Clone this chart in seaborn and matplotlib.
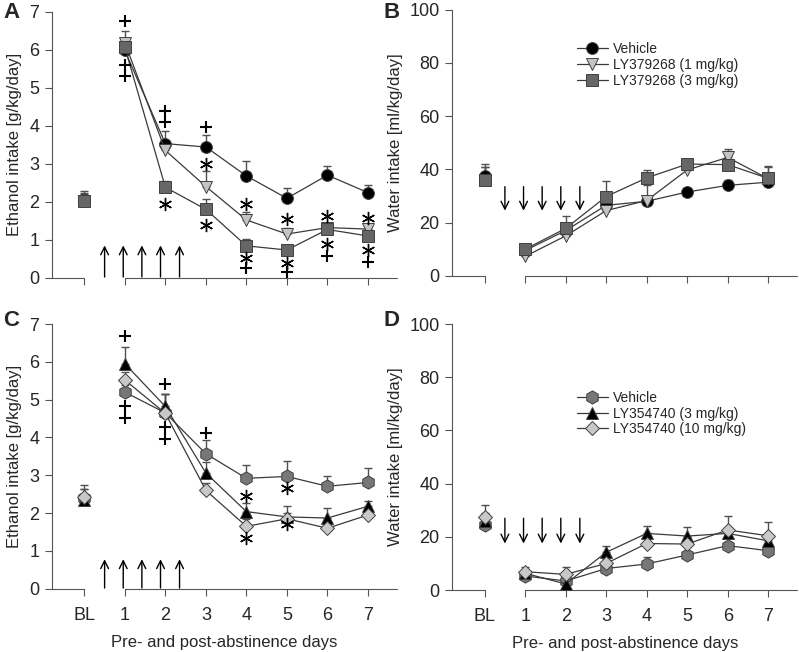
import numpy as np
import pandas as pd
import seaborn as sns
import matplotlib.pyplot as plt

sns.set_style("ticks")
plt.rcParams['font.family'] = ['Liberation Sans', 'DejaVu Sans']

days = [1, 2, 3, 4, 5, 6, 7]
xticklabels = ['BL', '1', '2', '3', '4', '5', '6', '7']

# panel A: ethanol intake, LY379268
a_vehicle = [5.98, 3.53, 3.44, 2.68, 2.09, 2.70, 2.24]
a_vehicle_err = [0.52, 0.33, 0.32, 0.40, 0.27, 0.24, 0.20]
a_vehicle_bl, a_vehicle_bl_err = 2.05, 0.22
a_ly1 = [6.18, 3.35, 2.40, 1.52, 1.15, 1.32, 1.28]
a_ly1_err = [0.12, 0.10, 0.42, 0.22, 0.16, 0.06, 0.06]
a_ly1_bl, a_ly1_bl_err = 2.02, 0.18
a_ly3 = [6.06, 2.38, 1.80, 0.84, 0.73, 1.27, 1.10]
a_ly3_err = [0.20, 0.17, 0.27, 0.19, 0.10, 0.08, 0.06]
a_ly3_bl, a_ly3_bl_err = 2.03, 0.20

# panel B: water intake, LY379268
b_vehicle = [9.5, 17.0, 26.5, 28.0, 31.5, 34.0, 35.2]
b_vehicle_err = [1.0, 2.0, 1.5, 1.5, 1.5, 2.0, 3.0]
b_vehicle_bl, b_vehicle_bl_err = 37.5, 3.5
b_ly1 = [7.3, 15.0, 24.5, 28.3, 39.8, 44.5, 36.5]
b_ly1_err = [1.0, 2.0, 2.0, 6.0, 2.5, 3.2, 4.5]
b_ly1_bl, b_ly1_bl_err = 36.0, 5.0
b_ly3 = [10.0, 17.8, 29.8, 36.8, 42.0, 41.8, 36.6]
b_ly3_err = [1.0, 4.8, 6.0, 3.0, 2.0, 5.0, 4.8]
b_ly3_bl, b_ly3_bl_err = 36.0, 6.0

# panel C: ethanol intake, LY354740
c_vehicle = [5.20, 4.65, 3.57, 2.92, 2.97, 2.71, 2.81]
c_vehicle_err = [0.20, 0.50, 0.36, 0.36, 0.40, 0.26, 0.38]
c_vehicle_bl, c_vehicle_bl_err = 2.40, 0.25
c_ly3 = [5.95, 4.82, 3.06, 2.04, 1.90, 1.87, 2.18]
c_ly3_err = [0.45, 0.32, 0.30, 0.22, 0.30, 0.27, 0.15]
c_ly3_bl, c_ly3_bl_err = 2.35, 0.30
c_ly10 = [5.52, 4.64, 2.60, 1.65, 1.85, 1.60, 1.95]
c_ly10_err = [0.20, 0.52, 0.20, 0.20, 0.15, 0.15, 0.15]
c_ly10_bl, c_ly10_bl_err = 2.42, 0.33

# panel D: water intake, LY354740
d_vehicle = [5.3, 3.4, 8.1, 9.8, 13.2, 16.7, 14.8]
d_vehicle_err = [1.0, 1.0, 1.5, 2.7, 1.5, 1.5, 1.5]
d_vehicle_bl, d_vehicle_bl_err = 24.4, 2.0
d_ly3 = [6.3, 2.3, 14.2, 21.3, 20.3, 21.3, 18.5]
d_ly3_err = [1.0, 1.0, 2.3, 2.8, 3.5, 2.0, 2.0]
d_ly3_bl, d_ly3_bl_err = 26.0, 3.0
d_ly10 = [6.9, 5.9, 10.0, 17.5, 17.3, 22.6, 20.4]
d_ly10_err = [1.9, 2.9, 1.5, 2.0, 2.0, 5.3, 5.0]
d_ly10_bl, d_ly10_bl_err = 27.6, 4.4

# significance symbols (day, y, symbol)
a_marks = [(1, 6.75, '+'), (1, 5.6, '+'), (1, 5.3, '+'),
           (2, 4.4, '+'), (2, 4.1, '+'), (2, 1.95, '*'),
           (3, 3.98, '+'), (3, 3.0, '*'), (3, 1.38, '*'),
           (4, 1.93, '*'), (4, 0.52, '*'), (4, 0.26, '+'),
           (5, 1.54, '*'), (5, 0.40, '*'), (5, 0.15, '+'),
           (6, 1.62, '*'), (6, 0.88, '*'), (6, 0.57, '+'),
           (7, 1.58, '*'), (7, 0.74, '*'), (7, 0.42, '+')]
c_marks = [(1, 6.68, '+'), (1, 4.82, '+'), (1, 4.52, '+'),
           (2, 5.42, '+'), (2, 4.27, '+'), (2, 3.97, '+'),
           (3, 4.13, '+'),
           (4, 2.44, '*'), (4, 1.34, '*'),
           (5, 2.66, '*'), (5, 1.70, '*')]

arrow_x = [0.5, 0.96, 1.42, 1.88, 2.35]

line_col = '#3a3a3a'
bar_col = '#505050'
axis_col = '#555555'


def draw_series(ax, vals, errs, bl, bl_err, label, marker, face, ms):
    x_all = [0] + days
    y_all = [bl] + vals
    e_all = [bl_err] + errs
    ax.errorbar(x_all, y_all, yerr=[np.zeros(len(y_all)), e_all], fmt='none',
                ecolor=bar_col, elinewidth=1.0, capsize=3, capthick=1.0, zorder=2)
    df = pd.DataFrame({'day': days, 'value': vals})
    sns.lineplot(data=df, x='day', y='value', ax=ax, color=line_col, lw=0.9,
                 marker=marker, markersize=ms, markerfacecolor=face,
                 markeredgecolor='#404040', markeredgewidth=0.7, label=label,
                 zorder=3)
    ax.plot([0], [bl], linestyle='none', marker=marker, markersize=ms,
            markerfacecolor=face, markeredgecolor='#404040',
            markeredgewidth=0.7, zorder=3)


def style_axis(ax, ymax, ystep, ylabel, bottom_row):
    ax.set_xlim(-0.8, 7.72)
    ax.set_ylim(0, ymax)
    ax.set_yticks(np.arange(0, ymax + 0.01, ystep))
    ax.set_xticks([0] + days)
    if bottom_row:
        ax.set_xticklabels(xticklabels)
        ax.set_xlabel('Pre- and post-abstinence days', fontsize=12, labelpad=8)
    else:
        ax.set_xticklabels([])
        ax.set_xlabel('')
    ax.set_ylabel(ylabel, fontsize=12, labelpad=5)
    ax.tick_params(labelsize=13, direction='out', length=5, width=0.8,
                   color=axis_col, pad=4)
    ax.tick_params(axis='x', pad=8)
    for s in ['top', 'right', 'bottom']:
        ax.spines[s].set_visible(False)
    ax.spines['left'].set_color(axis_col)
    ax.spines['left'].set_linewidth(0.8)
    # broken x axis: one piece for baseline, one for days
    x0, x1 = ax.get_xlim()
    f0 = (0 - x0) / (x1 - x0)
    f1 = (1 - x0) / (x1 - x0)
    ax.axhline(0, xmin=0, xmax=f0, color=axis_col, lw=0.8, clip_on=False)
    ax.axhline(0, xmin=f1, xmax=1, color=axis_col, lw=0.8, clip_on=False)


def draw_arrows(ax, y_from, y_to):
    for x in arrow_x:
        ax.annotate('', xy=(x, y_to), xytext=(x, y_from),
                    arrowprops=dict(arrowstyle='->', color='black', lw=1.0,
                                    mutation_scale=14, shrinkA=0, shrinkB=0))


def draw_marks(ax, marks):
    plus = [(d, y) for d, y, s in marks if s == '+']
    star = [(d, y) for d, y, s in marks if s == '*']
    if plus:
        px, py = zip(*plus)
        ax.plot(px, py, linestyle='none', marker='+', markersize=9,
                markeredgewidth=1.5, color='black', zorder=4, clip_on=False)
    if star:
        sx, sy = zip(*star)
        ax.plot(sx, sy, linestyle='none', marker=(6, 2, 0), markersize=9.5,
                markeredgewidth=1.0, color='black', zorder=4, clip_on=False)


fig = plt.figure(figsize=(7.99, 6.52), dpi=100)
ax_a = fig.add_axes([0.065, 0.574, 0.432, 0.408])
ax_b = fig.add_axes([0.566, 0.577, 0.432, 0.408])
ax_c = fig.add_axes([0.065, 0.097, 0.432, 0.406])
ax_d = fig.add_axes([0.566, 0.095, 0.432, 0.408])

legend_kw = dict(loc='center left', frameon=False, fontsize=10,
                 handlelength=2.2, labelspacing=0.12, handletextpad=0.35,
                 borderaxespad=0, borderpad=0)

# A
draw_series(ax_a, a_vehicle, a_vehicle_err, a_vehicle_bl, a_vehicle_bl_err,
            'Vehicle', 'o', 'black', 8.5)
draw_series(ax_a, a_ly1, a_ly1_err, a_ly1_bl, a_ly1_bl_err,
            'LY379268 (1 mg/kg)', 'v', '#c4c4c4', 9)
draw_series(ax_a, a_ly3, a_ly3_err, a_ly3_bl, a_ly3_bl_err,
            'LY379268 (3 mg/kg)', 's', '#666666', 8)
ax_a.get_legend().remove()
style_axis(ax_a, 7, 1, 'Ethanol intake [g/kg/day]', False)
draw_arrows(ax_a, 0.02, 0.85)
draw_marks(ax_a, a_marks)

# B
draw_series(ax_b, b_vehicle, b_vehicle_err, b_vehicle_bl, b_vehicle_bl_err,
            'Vehicle', 'o', 'black', 8.5)
draw_series(ax_b, b_ly1, b_ly1_err, b_ly1_bl, b_ly1_bl_err,
            'LY379268 (1 mg/kg)', 'v', '#c4c4c4', 9)
draw_series(ax_b, b_ly3, b_ly3_err, b_ly3_bl, b_ly3_bl_err,
            'LY379268 (3 mg/kg)', 's', '#666666', 8)
style_axis(ax_b, 100, 20, 'Water intake [ml/kg/day]', False)
draw_arrows(ax_b, 33.5, 24.5)
ax_b.legend(bbox_to_anchor=(0.362, 0.793), **legend_kw)

# C
draw_series(ax_c, c_vehicle, c_vehicle_err, c_vehicle_bl, c_vehicle_bl_err,
            'Vehicle', 'h', '#777777', 9.5)
draw_series(ax_c, c_ly3, c_ly3_err, c_ly3_bl, c_ly3_bl_err,
            'LY354740 (3 mg/kg)', '^', 'black', 9)
draw_series(ax_c, c_ly10, c_ly10_err, c_ly10_bl, c_ly10_bl_err,
            'LY354740 (10 mg/kg)', 'D', '#c8c8c8', 7.5)
ax_c.get_legend().remove()
style_axis(ax_c, 7, 1, 'Ethanol intake [g/kg/day]', True)
draw_arrows(ax_c, 0.02, 0.78)
draw_marks(ax_c, c_marks)

# D
draw_series(ax_d, d_vehicle, d_vehicle_err, d_vehicle_bl, d_vehicle_bl_err,
            'Vehicle', 'h', '#777777', 9.5)
draw_series(ax_d, d_ly3, d_ly3_err, d_ly3_bl, d_ly3_bl_err,
            'LY354740 (3 mg/kg)', '^', 'black', 9)
draw_series(ax_d, d_ly10, d_ly10_err, d_ly10_bl, d_ly10_bl_err,
            'LY354740 (10 mg/kg)', 'D', '#c8c8c8', 7.5)
style_axis(ax_d, 100, 20, 'Water intake [ml/kg/day]', True)
draw_arrows(ax_d, 27, 17.5)
ax_d.legend(bbox_to_anchor=(0.362, 0.663), **legend_kw)

for lbl, x, y in [('A', 0.004, 0.981), ('B', 0.480, 0.981),
                  ('C', 0.004, 0.509), ('D', 0.480, 0.509)]:
    fig.text(x, y, lbl, fontsize=16, fontweight='bold', ha='left', va='center')

fig.savefig('out.png', dpi=100)
